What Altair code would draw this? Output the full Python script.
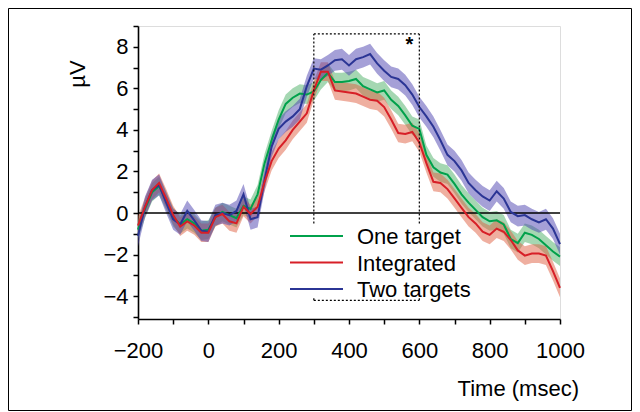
import altair as alt
import pandas as pd

# ---------------- data ----------------
time_ms = list(range(-200, 1001, 20))

one_target = [-0.8, 0.2, 1.0, 1.3, 0.6, -0.2, -0.55, -0.3, -0.5, -0.85,
              -0.8, -0.2, 0.05, -0.1, -0.25, 0.35, 0.2, 0.9, 2.4, 3.5,
              4.5, 5.25, 5.55, 5.75, 5.7, 5.85, 6.4, 6.75, 6.3, 6.3,
              6.35, 6.45, 6.1, 5.95, 5.8, 5.9, 5.45, 5.15, 4.7, 4.2,
              4.05, 2.8, 2.2, 1.95, 1.85, 1.4, 0.9, 0.5, 0.15, -0.2,
              -0.4, -0.35, -0.55, -1.25, -1.45, -0.95, -1.05, -1.25, -1.55, -1.85,
              -2.1]
integrated = [-0.6, 0.3, 1.1, 1.45, 0.7, -0.1, -0.65, -0.4, -0.6, -0.95,
              -0.95, -0.2, -0.05, -0.4, -0.5, 0.3, -0.05, 0.3, 1.5, 2.5,
              3.1, 3.5, 4.0, 4.4, 4.8, 5.9, 6.8, 6.8, 5.9, 5.85,
              5.8, 5.75, 5.6, 5.45, 5.4, 5.1, 4.5, 3.85, 3.8, 3.9,
              3.4, 2.4, 1.5, 1.45, 1.15, 0.7, 0.25, -0.2, -0.5, -0.9,
              -1.05, -0.75, -0.9, -1.3, -1.8, -2.05, -1.95, -1.95, -2.05, -2.8,
              -3.6]
two_targets = [-1.1, 0.3, 1.1, 1.35, 0.5, -0.3, -0.55, 0.1, -0.35, -0.85,
               -0.9, -0.1, 0.0, -0.1, 0.1, 0.9, -0.3, -0.2, 1.6, 3.2,
               4.05, 4.4, 4.65, 5.0, 6.1, 6.95, 6.9, 7.1, 7.35, 7.4,
               7.1, 7.4, 7.5, 7.65, 7.2, 6.85, 6.55, 6.45, 6.15, 5.7,
               5.1, 4.65, 4.15, 3.5, 2.8, 2.5, 2.05, 1.45, 1.1, 0.8,
               0.6, 1.05, 0.7, 0.05, -0.15, -0.1, -0.3, -0.45, -0.3, -0.75,
               -1.5]

series_names = ["One target", "Integrated", "Two targets"]
series_values = [one_target, integrated, two_targets]
series_se = [0.45, 0.45, 0.5]
line_colors = ["#00a14b", "#d71f27", "#2b3595"]
band_colors = ["#4caf65", "#e05f41", "#4b41af"]

# annotation (window of significance)
win_start, win_end = 300, 600
win_top, win_side_bottom, win_bottom = 8.62, -0.5, -4.2
star_x, star_y = 572, 8.1

x_ticks = list(range(-200, 1001, 100))
y_ticks = list(range(-5, 10))

# ---------------- layout ----------------
FONT = "Liberation Sans"
W, H = 422, 293
PAD = {"left": 130, "top": 18, "right": 72, "bottom": 92}

xscale = alt.Scale(domain=[-200, 1000], nice=False, zero=False)
yscale = alt.Scale(domain=[-5.1, 9], nice=False, zero=False)
xaxis = alt.Axis(values=x_ticks, title=None, grid=False, tickSize=5, format="d",
                 labelExpr="datum.value % 200 == 0 ? datum.label : ''",
                 labelBaseline="alphabetic", labelPadding=33,
                 labelFontSize=22, labelFont=FONT, labelColor="black",
                 domainColor="black", domainWidth=1.6, tickColor="black",
                 tickWidth=1.5, labelFlush=False, labelOverlap=False)
yaxis = alt.Axis(values=y_ticks, title=None, grid=False, tickSize=5, format="d",
                 labelExpr="datum.value % 2 == 0 ? datum.label : ''",
                 labelPadding=5, labelFontSize=22, labelFont=FONT,
                 labelColor="black", domainColor="black", domainWidth=1.6,
                 tickColor="black", tickWidth=1.5, labelOverlap=False)


def X(field):
    return alt.X(field, type="quantitative", scale=xscale, axis=xaxis)


def Y(field):
    return alt.Y(field, type="quantitative", scale=yscale, axis=yaxis)


rows = []
for name, vals, se in zip(series_names, series_values, series_se):
    for t, v in zip(time_ms, vals):
        rows.append({"series": name, "time": t, "value": v,
                     "lo": v - se, "hi": v + se})
df = pd.DataFrame(rows)

layers = []
# bands
for name, bc in zip(series_names, band_colors):
    layers.append(
        alt.Chart(df[df.series == name]).mark_area(color=bc, opacity=0.5)
        .encode(x=X("time"), y=Y("lo"), y2="hi")
    )

# zero line
zero_df = pd.DataFrame({"x": [-200], "x2": [1000], "y": [0]})
layers.append(alt.Chart(zero_df).mark_rule(color="black", strokeWidth=1.6)
              .encode(x=X("x"), x2="x2", y=Y("y")))

# lines (red on top)
for idx in [0, 2, 1]:
    layers.append(
        alt.Chart(df[df.series == series_names[idx]])
        .mark_line(color=line_colors[idx], strokeWidth=2)
        .encode(x=X("time"), y=Y("value"))
    )

# dotted window
seg = pd.DataFrame({
    "x": [win_start, win_start, win_end, win_start, win_start, win_end],
    "x2": [win_end, win_start, win_end, win_end, win_start, win_end],
    "y": [win_top, win_side_bottom, win_side_bottom, win_bottom, win_bottom, win_bottom],
    "y2": [win_top, win_top, win_top, win_bottom, win_bottom + 0.15, win_bottom + 0.15],
})
layers.append(alt.Chart(seg).mark_rule(color="black", strokeWidth=1.2, strokeDash=[2, 2])
              .encode(x=X("x"), x2="x2", y=Y("y"), y2="y2"))

star_df = pd.DataFrame({"x": [star_x], "y": [star_y], "t": ["*"]})
layers.append(alt.Chart(star_df).mark_text(font=FONT, fontSize=20, fontWeight="bold",
                                           color="black", baseline="middle")
              .encode(x=X("x"), y=Y("y"), text="t:N"))

# legend (manual)
one = pd.DataFrame({"k": [0]})
for i, (name, lc) in enumerate(zip(series_names, line_colors)):
    ly = 210 + 26.5 * i
    layers.append(alt.Chart(one).mark_rule(color=lc, strokeWidth=2)
                  .encode(x=alt.value(152), x2=alt.value(205), y=alt.value(ly)))
    layers.append(alt.Chart(one).mark_text(text=name, font=FONT, fontSize=22,
                                           align="left", baseline="middle", color="black")
                  .encode(x=alt.value(219), y=alt.value(ly + 1)))

# axis titles as text
layers.append(alt.Chart(one).mark_text(text="µV", font=FONT, fontSize=22, angle=270,
                                       align="center", baseline="middle", color="black")
              .encode(x=alt.value(-60), y=alt.value(48)))
layers.append(alt.Chart(one).mark_text(text="Time (msec)", font=FONT, fontSize=22,
                                       align="right", baseline="alphabetic", color="black")
              .encode(x=alt.value(441), y=alt.value(369.5)))

# outer frame
layers.append(alt.Chart(one).mark_rect(filled=False, stroke="black", strokeWidth=1, clip=False)
              .encode(x=alt.value(-PAD["left"] + 0.5), x2=alt.value(W + PAD["right"] - 0.5),
                      y=alt.value(-PAD["top"] + 0.5), y2=alt.value(H + PAD["bottom"] - 0.5)))

chart = (
    alt.layer(*layers)
    .properties(width=W, height=H, padding=PAD,
                autosize=alt.AutoSizeParams(type="none"))
    .configure_view(stroke=None)
    .configure(background="white")
)

chart.save("out.html", embed_options={"renderer": "svg", "actions": False})
